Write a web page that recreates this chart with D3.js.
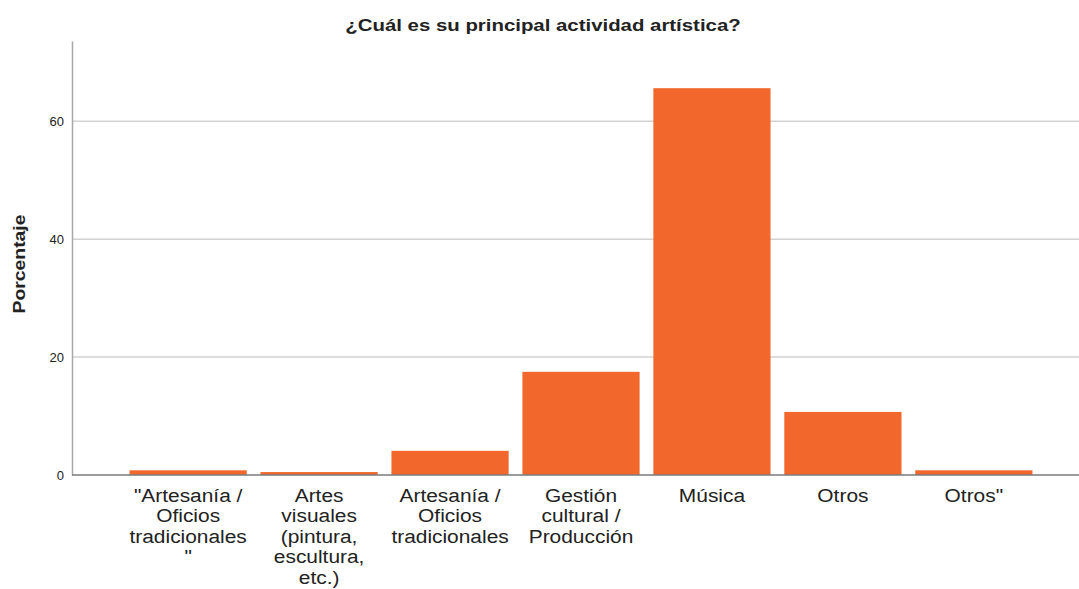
<!DOCTYPE html>
<html lang="es">
<head>
<meta charset="UTF-8">
<title>¿Cuál es su principal actividad artística?</title>
<script src="https://d3js.org/d3.v7.min.js"></script>
<style>
  body { margin: 0; background: #fff; }
  text { font-family: "Liberation Sans", Arial, sans-serif; fill: #222; }
</style>
</head>
<body>
<div id="chart"></div>
<script>
// categories (label lines) and percentages
var categories = [
  ["\"Artesanía /", "Oficios", "tradicionales", "\""],
  ["Artes", "visuales", "(pintura,", "escultura,", "etc.)"],
  ["Artesanía /", "Oficios", "tradicionales"],
  ["Gestión", "cultural /", "Producción"],
  ["Música"],
  ["Otros"],
  ["Otros\""]
];
var percentages = [0.8, 0.5, 4.1, 17.5, 65.6, 10.7, 0.8];
var yTicks = [0, 20, 40, 60];

var W = 1079, H = 589;
var plotLeft = 72, plotRight = 1079, plotTop = 41, plotBottom = 475;

var svg = d3.select("#chart").append("svg")
  .attr("width", W).attr("height", H);

var x = d3.scaleBand()
  .domain(d3.range(categories.length))
  .range([123, 1039])
  .paddingInner(0.105)
  .paddingOuter(0.05);

var y = d3.scaleLinear().domain([0, 73.6]).range([plotBottom, plotTop]);

// gridlines
svg.append("g").selectAll("line")
  .data(yTicks.filter(d => d > 0))
  .join("line")
    .attr("x1", plotLeft).attr("x2", plotRight)
    .attr("y1", d => y(d)).attr("y2", d => y(d))
    .attr("stroke", "#d2d2d2").attr("stroke-width", 1.5);

// y axis
var yAxis = svg.append("g")
  .attr("transform", "translate(" + plotLeft + ",0)")
  .call(d3.axisLeft(y).tickValues(yTicks).tickSize(0).tickPadding(8));
yAxis.select(".domain").attr("stroke", "#a8a8a8").attr("stroke-width", 1.5);
yAxis.selectAll("text").style("font-size", "13px").attr("fill", "#222");

// bars
svg.append("g").selectAll("rect")
  .data(percentages)
  .join("rect")
    .attr("x", (d, i) => x(i))
    .attr("width", x.bandwidth())
    .attr("y", d => y(d))
    .attr("height", d => y(0) - y(d))
    .attr("fill", "#f2682c");

// x axis baseline
svg.append("line")
  .attr("x1", plotLeft).attr("x2", plotRight)
  .attr("y1", plotBottom).attr("y2", plotBottom)
  .attr("stroke", "#7a7a7a").attr("stroke-width", 1.5);

// category labels (text in the source is a bit wider than Arial, so stretch it)
var lab = svg.append("g").selectAll("text")
  .data(categories)
  .join("text")
    .attr("text-anchor", "middle")
    .attr("transform", (d, i) => "translate(" + (x(i) + x.bandwidth() / 2) + ",0) scale(1.1,1)")
    .style("font-size", "19px")
    .attr("fill", "#333");
lab.each(function(lines) {
  var t = d3.select(this);
  lines.forEach(function(s, k) {
    t.append("tspan")
      .attr("x", 0)
      .attr("y", 502 + k * 20.5)
      .text(s);
  });
});

// title
svg.append("text")
  .attr("transform", "translate(543,31) scale(1.2,1)")
  .attr("text-anchor", "middle")
  .style("font-size", "17px").style("font-weight", "bold")
  .text("¿Cuál es su principal actividad artística?");

// y axis title
svg.append("text")
  .attr("transform", "translate(25,264) rotate(-90) scale(1.14,1)")
  .attr("text-anchor", "middle")
  .style("font-size", "17px").style("font-weight", "bold")
  .text("Porcentaje");
</script>
</body>
</html>
